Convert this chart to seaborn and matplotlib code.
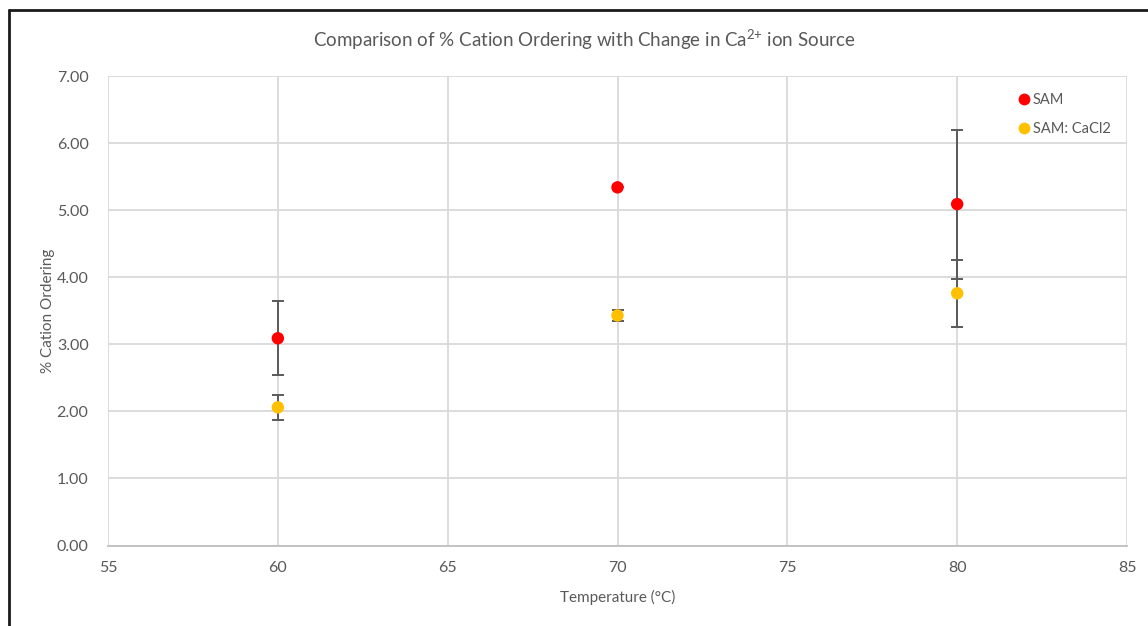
import matplotlib
matplotlib.use("Agg")
import matplotlib.pyplot as plt
from matplotlib.lines import Line2D
import seaborn as sns
import pandas as pd

# Measured cation ordering (%) and error (+/-) at each synthesis temperature
temperatures = [60, 70, 80]
sam_values = [3.09, 5.34, 5.09]
sam_errors = [0.55, 0.0, 1.11]
cacl2_values = [2.06, 3.43, 3.76]
cacl2_errors = [0.19, 0.08, 0.50]
series_names = ["SAM", "SAM: CaCl2"]
series_colors = ["#FF0000", "#FFC000"]
x_ticks = [55, 60, 65, 70, 75, 80, 85]
y_ticks = [0, 1, 2, 3, 4, 5, 6, 7]

df = pd.DataFrame({
    "Temperature": temperatures * 2,
    "Ordering": sam_values + cacl2_values,
    "Error": sam_errors + cacl2_errors,
    "Series": [series_names[0]] * 3 + [series_names[1]] * 3,
})

sns.set_theme(style="white")
plt.rcParams["font.family"] = ["Lato", "DejaVu Sans"]
plt.rcParams["mathtext.fontset"] = "custom"
plt.rcParams["mathtext.rm"] = "Lato"
plt.rcParams["mathtext.default"] = "regular"

W, H = 1148, 626
fig = plt.figure(figsize=(W / 100, H / 100), dpi=100)
ax = fig.add_axes([108 / W, 1 - 545.5 / H, (1127 - 108) / W, (545.5 - 76) / H])

text_gray = "#595959"
grid_gray = "#D9D9D9"

# error bars sit underneath the markers
for name in series_names:
    sub = df[df["Series"] == name]
    ax.errorbar(sub["Temperature"], sub["Ordering"], yerr=sub["Error"],
                fmt="none", ecolor="#5A5A5A", elinewidth=1.4, capsize=4,
                capthick=1.4, zorder=2)

sns.scatterplot(data=df, x="Temperature", y="Ordering", hue="Series",
                palette=series_colors, hue_order=series_names, s=80,
                edgecolor="none", linewidth=0, ax=ax, zorder=3, legend=False)

ax.set_xlim(55, 85)
ax.set_ylim(0, 7)
ax.set_xticks(x_ticks)
ax.set_yticks(y_ticks)
ax.set_yticklabels([f"{v:.2f}" for v in y_ticks])
ax.grid(True, color=grid_gray, linewidth=1.3)
ax.set_axisbelow(True)
for side in ["top", "right", "left"]:
    ax.spines[side].set_visible(False)
ax.spines["bottom"].set_color("#BFBFBF")
ax.spines["bottom"].set_linewidth(1.3)
ax.tick_params(axis="both", length=0, labelsize=11.5, labelcolor=text_gray)
ax.tick_params(axis="x", pad=11)
ax.tick_params(axis="y", pad=14)

ax.set_xlabel("Temperature (°C)", fontsize=11, color=text_gray, labelpad=11)
ax.set_ylabel("% Cation Ordering", fontsize=11, color=text_gray, labelpad=1)

fig.text(584 / W, 1 - 40 / H,
         "Comparison of % Cation Ordering with Change in Ca$^{2{+}}$ ion Source",
         ha="center", va="center", fontsize=13.5, color=text_gray)

handles = [Line2D([0], [0], marker="o", linestyle="none", markersize=8.5,
                  markerfacecolor=c, markeredgecolor="none")
           for c in series_colors]
leg = ax.legend(handles, series_names, loc="upper left",
                bbox_to_anchor=(1008 / W, 1 - 86 / H), bbox_transform=fig.transFigure,
                frameon=False, fontsize=10.5, handletextpad=0.0, labelspacing=1.0,
                handlelength=1.2, borderpad=0)
for t in leg.get_texts():
    t.set_color(text_gray)

# chart frame edges along the top and left
fig.add_artist(Line2D([8.5 / W, 8.5 / W], [0, 1 - 10 / H], color="#1A1A1A",
                      linewidth=2, transform=fig.transFigure))
fig.add_artist(Line2D([8.5 / W, 1], [1 - 10 / H, 1 - 10 / H], color="#1A1A1A",
                      linewidth=2, transform=fig.transFigure))

fig.savefig("out.png", dpi=100)
